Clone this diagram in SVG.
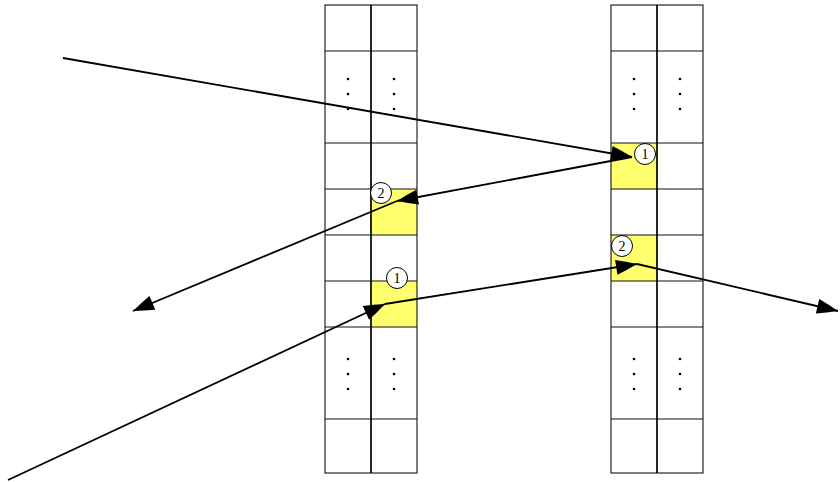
<svg xmlns="http://www.w3.org/2000/svg" width="840" height="482" viewBox="0 0 840 482">
<defs>
<style>
.cell{fill:none;stroke:#111;stroke-width:1.1}
.mid{stroke:#000;stroke-width:1.7}
.hl{fill:#ffff6e}
.dot{fill:#000}
.conn{stroke:#000;stroke-width:1.8;fill:none;marker-end:url(#arr)}
.badge circle{fill:#fff;stroke:#000;stroke-width:1}
.badge text{font-family:"Liberation Serif","DejaVu Serif",serif;font-size:14px;text-anchor:middle;fill:#000}
</style>
<marker id="arr" markerUnits="userSpaceOnUse" markerWidth="26" markerHeight="18" viewBox="-23 -9 24 18" refX="0" refY="0" orient="auto">
<path d="M-21,-7.5 Q-11,-4.5 0,0 Q-11,4.5 -21,7.5 Z" fill="#000"/>
</marker>
</defs>
<rect width="840" height="482" fill="#fff"/>

<g id="col-left">
<rect class="hl" x="371" y="189" width="46" height="46"/>
<rect class="hl" x="371" y="281" width="46" height="46"/>
<rect class="cell" x="325" y="5" width="92" height="468"/>
<path class="cell" d="M325 51H417M325 143H417M325 189H417M325 235H417M325 281H417M325 327H417M325 419H417"/>
<path class="mid" d="M371 5V473"/>
<g class="dot">
<circle cx="348" cy="79" r="1.3"/><circle cx="348" cy="94" r="1.3"/><circle cx="348" cy="109" r="1.3"/>
<circle cx="394" cy="79" r="1.3"/><circle cx="394" cy="94" r="1.3"/><circle cx="394" cy="109" r="1.3"/>
<circle cx="348" cy="359" r="1.3"/><circle cx="348" cy="374" r="1.3"/><circle cx="348" cy="389" r="1.3"/>
<circle cx="394" cy="359" r="1.3"/><circle cx="394" cy="374" r="1.3"/><circle cx="394" cy="389" r="1.3"/>
</g>
</g>

<g id="col-right">
<rect class="hl" x="611" y="143" width="46" height="46"/>
<rect class="hl" x="611" y="235" width="46" height="46"/>
<rect class="cell" x="611" y="5" width="92" height="468"/>
<path class="cell" d="M611 51H703M611 143H703M611 189H703M611 235H703M611 281H703M611 327H703M611 419H703"/>
<path class="mid" d="M657 5V473"/>
<g class="dot">
<circle cx="634" cy="79" r="1.3"/><circle cx="634" cy="94" r="1.3"/><circle cx="634" cy="109" r="1.3"/>
<circle cx="680" cy="79" r="1.3"/><circle cx="680" cy="94" r="1.3"/><circle cx="680" cy="109" r="1.3"/>
<circle cx="634" cy="359" r="1.3"/><circle cx="634" cy="374" r="1.3"/><circle cx="634" cy="389" r="1.3"/>
<circle cx="680" cy="359" r="1.3"/><circle cx="680" cy="374" r="1.3"/><circle cx="680" cy="389" r="1.3"/>
</g>
</g>

<g id="connectors">
<path class="conn" d="M63 58L632 157"/>
<path class="conn" d="M632 157L397 201"/>
<path class="conn" d="M397 201L133 311"/>
<path class="conn" d="M8 480L385 304"/>
<path class="conn" d="M385 304L637 264"/>
<path class="conn" d="M637 264L838 311"/>
</g>

<g id="badge-r1" class="badge"><circle cx="645" cy="154" r="10.5"/><text x="645" y="159">1</text></g>
<g id="badge-r2" class="badge"><circle cx="622" cy="246" r="10.5"/><text x="622" y="251">2</text></g>
<g id="badge-l2" class="badge"><circle cx="381" cy="193" r="10.5"/><text x="381" y="198">2</text></g>
<g id="badge-l1" class="badge"><circle cx="397" cy="278" r="10.5"/><text x="397" y="283">1</text></g>
</svg>
